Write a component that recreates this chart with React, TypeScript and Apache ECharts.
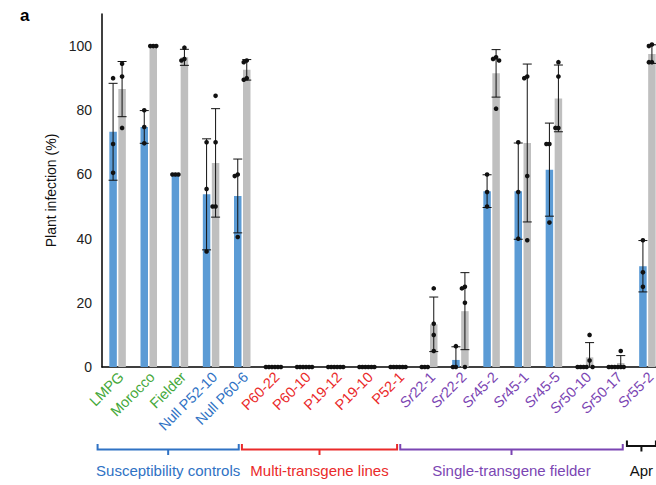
import React, { useEffect, useRef } from 'react';
import * as echarts from 'echarts';

const categories = [
  'LMPG', 'Morocco', 'Fielder', 'Null P52-10', 'Null P60-6',
  'P60-22', 'P60-10', 'P19-12', 'P19-10', 'P52-1',
  'Sr22-1', 'Sr22-2', 'Sr45-2', 'Sr45-1', 'Sr45-5', 'Sr50-10', 'Sr50-17', 'Sr55-2',
];
// label style key per category: g = green, b = blue, r = red, p = purple (italic Sr)
const labelStyle = ['g', 'g', 'g', 'b', 'b', 'r', 'r', 'r', 'r', 'r', 'p', 'p', 'p', 'p', 'p', 'p', 'p', 'p'];

const blueMean = [73.3, 74.8, 60, 53.8, 53.3, 0, 0, 0, 0, 0, 0, 2.2, 54.8, 54.8, 61.5, 0, 0, 31.4];
const grayMean = [86.6, 100, 96.5, 63.6, 92.6, 0, 0, 0, 0, 0, 13.3, 17.4, 91.5, 69.8, 83.7, 3, 1.25, 97.5];
const blueSD = [15.1, 5.1, 0, 17.3, 11.5, 0, 0, 0, 0, 0, 0, 4.1, 5.1, 15, 14.5, 0, 0, 8];
const graySD = [8.6, 0, 2.5, 16.9, 3.2, 0, 0, 0, 0, 0, 8.5, 12, 7.4, 24.6, 10.4, 4.6, 2.3, 2.9];

const blueDots = [
  [90, 69.5, 60.5], [80, 74.8, 69.7], [60, 60, 60], [70, 55.5, 36], [60, 59.5, 40.5],
  [0, 0, 0], [0, 0, 0], [0, 0, 0], [0, 0, 0], [0, 0, 0],
  [0, 0, 0], [6.5, 0, 0], [60, 54.5, 50], [70, 54.5, 40], [69.5, 69.5, 45],
  [0, 0, 0], [0, 0, 0], [39.5, 29.5, 25],
];
const grayDots = [
  [94.5, 90.5, 74.5], [100, 100, 100], [99.5, 96, 95.5], [84.5, 70, 50, 50], [95.5, 95, 90, 89.5],
  [0, 0, 0], [0, 0, 0], [0, 0, 0], [0, 0, 0], [0, 0, 0],
  [24.5, 13.5, 10, 5], [25, 24.5, 20, 0], [96.5, 96, 95.5, 80.5], [90.5, 90, 59.5, 39.5], [95, 90.5, 74.5, 74.5],
  [10, 2, 0, 0], [5, 0, 0, 0], [100.5, 100, 95, 95],
];

const groupNames = ['Susceptibility controls', 'Multi-transgene lines', 'Single-transgene fielder', 'Apr'];
const groupFrom = [0, 5, 10, 17];
const groupTo = [4, 9, 16, 17];
const groupColors = ['#2f72c4', '#ea2a2a', '#7b45b3', '#111111'];

// layout (pixel offsets of bracket ends relative to category centres)
const bracketStartOff = [-20, -31.5, -29, -20.5];
const bracketEndOff = [-3.5, -1, 6.5, 8.5];

const FONT = '"Liberation Sans", Arial, Helvetica, sans-serif';
const BAR_W = 7.5;
const HALF_OFF = 4.5;
const CAP = 4.5;

export default function App() {
  const ref = useRef<HTMLDivElement>(null);

  useEffect(() => {
    if (!ref.current) return;
    const chart = echarts.init(ref.current, undefined, { renderer: 'svg' });

    const errData: number[][] = [];
    categories.forEach((_, i) => {
      errData.push([i, blueMean[i], blueSD[i], -1]);
      errData.push([i, grayMean[i], graySD[i], 1]);
    });

    const jitterSet = [0, -3, 3, -1.5, 1.5];
    const dotData: number[][] = [];
    const addDots = (arr: number[][], side: number) => {
      arr.forEach((vals, i) => {
        vals.forEach((v, k) => {
          let n = 0;
          for (let j = 0; j < k; j++) if (Math.abs(vals[j] - v) < 2.5) n++;
          dotData.push([i, v, side, jitterSet[n] || 0]);
        });
      });
    };
    addDots(blueDots, -1);
    addDots(grayDots, 1);

    const LFS = 14.5;
    const rich: any = {
      g: { color: '#45a83a', fontSize: LFS, fontFamily: FONT },
      b: { color: '#2f72c4', fontSize: LFS, fontFamily: FONT },
      r: { color: '#ea2a2a', fontSize: LFS, fontFamily: FONT },
      pi: { color: '#7b45b3', fontSize: LFS, fontFamily: FONT, fontStyle: 'italic' },
      p: { color: '#7b45b3', fontSize: LFS, fontFamily: FONT },
    };

    chart.setOption({
      animation: false,
      textStyle: { fontFamily: FONT },
      grid: { left: 102, top: 14, height: 353, width: 561 },
      xAxis: {
        type: 'category',
        data: categories,
        axisTick: { show: false },
        axisLine: { lineStyle: { color: '#000', width: 1.5 } },
        axisLabel: {
          interval: 0,
          rotate: 45,
          margin: 11,
          padding: [0, -5, 0, 0],
          formatter: (val: string, idx: number) => {
            const s = labelStyle[idx];
            if (s === 'p') return `{pi|Sr}{p|${val.slice(2)}}`;
            return `{${s}|${val}}`;
          },
          rich,
        },
      },
      yAxis: {
        type: 'value',
        min: 0,
        max: 110,
        interval: 20,
        name: 'Plant infection (%)',
        nameLocation: 'middle',
        nameGap: 36,
        nameTextStyle: { fontSize: 14, color: '#111', fontFamily: FONT },
        axisLine: { show: true, lineStyle: { color: '#000', width: 1.5 } },
        axisTick: { show: false },
        splitLine: { show: false },
        axisLabel: {
          fontSize: 14,
          color: '#222',
          margin: 10,
          fontFamily: FONT,
          formatter: (v: number) => (v > 100 ? '' : String(v)),
        },
      },
      series: [
        {
          type: 'bar',
          data: blueMean,
          barWidth: BAR_W,
          barGap: '20%',
          itemStyle: { color: '#5b9bd5' },
        },
        {
          type: 'bar',
          data: grayMean,
          barWidth: BAR_W,
          itemStyle: { color: '#bfbfbf' },
        },
        {
          type: 'custom',
          data: errData,
          encode: { x: 0, y: 1 },
          z: 5,
          renderItem: (params: any, api: any) => {
            const i = api.value(0);
            const m = api.value(1);
            const sd = api.value(2);
            const side = api.value(3);
            if (!(sd > 0)) return null;
            const c = api.coord([i, m]);
            const x = c[0] + side * HALF_OFF;
            const yTop = api.coord([i, m + sd])[1];
            const lo = m - sd;
            const yBot = api.coord([i, Math.max(0, lo)])[1];
            const st = { stroke: '#111', lineWidth: 1 };
            const children: any[] = [
              { type: 'line', shape: { x1: x, y1: yBot, x2: x, y2: yTop }, style: st },
              { type: 'line', shape: { x1: x - CAP, y1: yTop, x2: x + CAP, y2: yTop }, style: st },
            ];
            if (lo > 0.5) {
              children.push({ type: 'line', shape: { x1: x - CAP, y1: yBot, x2: x + CAP, y2: yBot }, style: st });
            }
            return { type: 'group', children };
          },
        },
        {
          type: 'custom',
          data: dotData,
          encode: { x: 0, y: 1 },
          z: 6,
          renderItem: (params: any, api: any) => {
            const i = api.value(0);
            const v = api.value(1);
            const side = api.value(2);
            const jit = api.value(3);
            const c = api.coord([i, v]);
            return {
              type: 'circle',
              shape: { cx: c[0] + side * HALF_OFF + jit, cy: c[1], r: 2.3 },
              style: { fill: '#111' },
            };
          },
        },
      ],
    });

    const px = (i: number) => (chart.convertToPixel({ gridIndex: 0 }, [i, 0]) as number[])[0];
    const graphics: any[] = [
      {
        type: 'text',
        left: 20,
        top: 7,
        style: { text: 'a', font: `bold 17px ${FONT}`, fill: '#000' },
      },
    ];
    groupNames.forEach((name, g) => {
      const x1 = px(groupFrom[g]) + bracketStartOff[g];
      const x2 = px(groupTo[g]) + bracketEndOff[g];
      const y = g === 3 ? 446 : 449.5;
      const xc = (x1 + x2) / 2;
      const st = { stroke: groupColors[g], lineWidth: 2, fill: null };
      graphics.push({
        type: 'polyline',
        shape: { points: [[x1, y - 5.5], [x1, y], [x2, y], [x2, y - 5.5]] },
        style: st,
      });
      graphics.push({
        type: 'line',
        shape: { x1: xc, y1: y, x2: xc, y2: y + 5.5 },
        style: st,
      });
      graphics.push({
        type: 'text',
        x: xc,
        y: 470,
        style: {
          text: name,
          font: `15px ${FONT}`,
          fill: groupColors[g],
          align: 'center',
          verticalAlign: 'middle',
        },
      });
    });
    chart.setOption({ graphic: graphics });

    return () => chart.dispose();
  }, []);

  return (
    <div style={{ position: 'absolute', left: 0, top: 0, width: 656, height: 485, overflow: 'hidden' }}>
      <div ref={ref} style={{ width: 720, height: 485 }} />
    </div>
  );
}
